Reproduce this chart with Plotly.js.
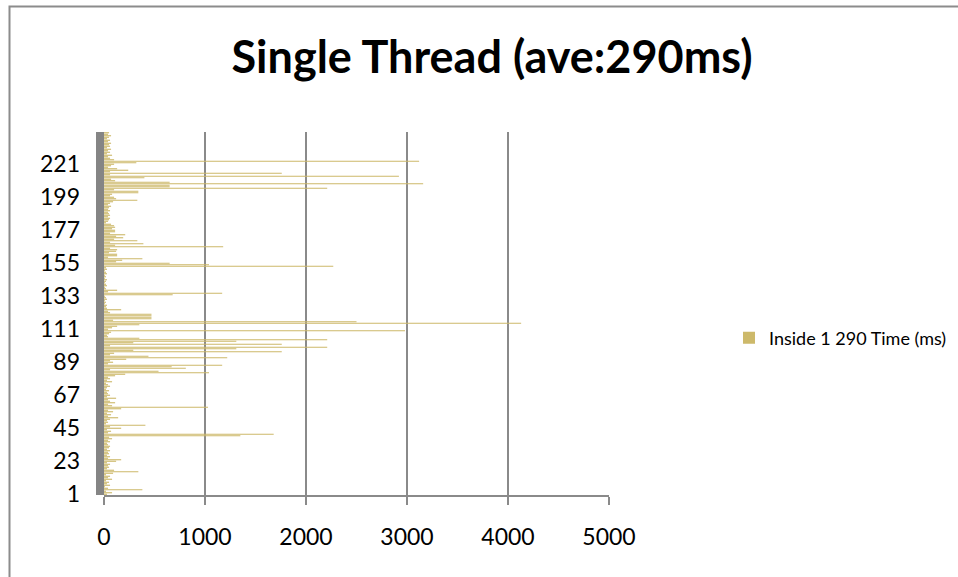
<!DOCTYPE html>
<html>
<head>
<meta charset="utf-8">
<script src="https://cdn.plot.ly/plotly-3.0.1.min.js"></script>
<style>
  html, body { margin: 0; padding: 0; background: #ffffff; }
  #chart { width: 958px; height: 577px; }
</style>
</head>
<body>
<div id="chart"></div>
<script>
// Time (ms) for each run, run 1 .. 242
const timeMs = [
  30, 80, 20, 380, 40, 10, 60, 30, 50, 20,
  80, 40, 60, 20, 90, 340, 100, 30, 50, 40,
  60, 30, 120, 170, 40, 60, 30, 50, 40, 60,
  30, 50, 60, 40, 30, 60, 40, 80, 50, 1350,
  1680, 40, 70, 30, 170, 60, 410, 20, 40, 30,
  60, 140, 40, 70, 30, 90, 40, 170, 1030, 80,
  40, 110, 60, 40, 120, 30, 60, 40, 30, 50,
  20, 30, 60, 40, 20, 80, 30, 60, 40, 110,
  210, 1040, 540, 60, 810, 670, 1170, 40, 90, 60,
  220, 1220, 440, 60, 100, 1760, 290, 1310, 2210, 60,
  1760, 290, 1310, 2210, 350, 40, 30, 50, 70, 2980,
  40, 80, 130, 350, 4130, 2500, 90, 470, 470, 470,
  470, 60, 40, 170, 30, 20, 30, 10, 20, 10,
  30, 20, 10, 680, 1170, 40, 130, 20, 10, 30,
  20, 10, 20, 30, 10, 20, 10, 30, 20, 10,
  30, 20, 2270, 1040, 650, 120, 180, 380, 40, 130,
  130, 50, 120, 130, 60, 1180, 110, 390, 60, 330,
  100, 190, 120, 210, 60, 110, 110, 80, 110, 100,
  70, 20, 40, 50, 60, 40, 60, 50, 40, 60,
  40, 50, 70, 40, 60, 90, 330, 120, 100, 60,
  80, 340, 340, 100, 2210, 650, 650, 3160, 650, 110,
  70, 400, 2920, 60, 1760, 60, 240, 130, 40, 70,
  100, 320, 3120, 100, 60, 40, 80, 30, 60, 40,
  70, 30, 60, 50, 70, 40, 60, 30, 50, 70,
  40, 50
];
const runNumbers = timeMs.map((_, i) => i + 1);
const yTickLabels = [1, 23, 45, 67, 89, 111, 133, 155, 177, 199, 221];
const xTickLabels = [0, 1000, 2000, 3000, 4000, 5000];
const seriesName = 'Inside 1 290 Time (ms)';
const chartTitle = 'Single Thread (ave:290ms)';

// pixel geometry of the plot area
const W = 958, H = 577;
const L = 104, R = 609, T = 132, B = 495;
const pw = R - L, ph = B - T;
const px = v => (v - L) / pw;
const py = v => (B - v) / ph;

const FONT = 'Lato, "Open Sans", sans-serif';
const GRID = '#8a8a8a';

const trace = {
  type: 'bar',
  orientation: 'h',
  x: timeMs,
  y: runNumbers,
  name: seriesName,
  marker: { color: '#cdb96a', line: { width: 0 } },
  hoverinfo: 'x+y'
};

const layout = {
  width: W, height: H,
  margin: { l: L, r: W - R, t: T, b: H - B, pad: 0, autoexpand: false },
  paper_bgcolor: '#ffffff',
  plot_bgcolor: '#ffffff',
  bargap: 0.25,
  showlegend: true,
  font: { family: FONT, color: '#000000', size: 22 },
  title: {
    text: '<b>' + chartTitle + '</b>',
    font: { family: FONT, size: 45, color: '#000000' },
    xref: 'container', yref: 'container',
    x: 492 / W, xanchor: 'center',
    y: 1 - 57 / H, yanchor: 'middle'
  },
  xaxis: {
    range: [0, 5000],
    tickvals: xTickLabels,
    ticktext: xTickLabels.map(String),
    showgrid: true, gridcolor: GRID, gridwidth: 2,
    zeroline: false,
    showline: true, linecolor: GRID, linewidth: 2,
    ticks: 'outside', ticklen: 8, tickwidth: 2, tickcolor: GRID,
    ticklabelstandoff: 12,
    tickfont: { family: FONT, size: 23, color: '#000000' },
    fixedrange: true
  },
  yaxis: {
    range: [0.5, timeMs.length + 0.5],
    tickvals: yTickLabels,
    ticktext: yTickLabels.map(String),
    showgrid: false, zeroline: false, showline: false,
    ticks: '',
    ticklabelstandoff: 23,
    tickfont: { family: FONT, size: 23, color: '#000000' },
    fixedrange: true
  },
  legend: {
    x: px(729), xanchor: 'left',
    y: py(338), yanchor: 'middle',
    bgcolor: 'rgba(0,0,0,0)', borderwidth: 0,
    itemwidth: 30,
    font: { family: FONT, size: 18, color: '#000000' }
  },
  shapes: [
    // thick grey vertical axis band
    { type: 'rect', xref: 'paper', yref: 'paper',
      x0: px(96), x1: px(104), y0: 0, y1: py(132),
      fillcolor: '#858585', line: { width: 0 }, layer: 'above' },
    // chart frame
    { type: 'rect', xref: 'paper', yref: 'paper',
      x0: px(9.5), x1: px(975), y0: py(6.5), y1: py(600),
      fillcolor: 'rgba(0,0,0,0)', line: { color: '#8c8c8c', width: 2 }, layer: 'below' }
  ]
};

Plotly.newPlot('chart', [trace], layout, { displayModeBar: false, staticPlot: true });
</script>
</body>
</html>
